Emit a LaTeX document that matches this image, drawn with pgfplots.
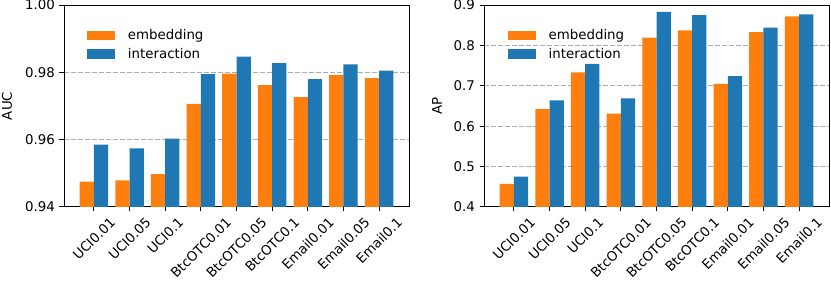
\documentclass[border=0pt]{standalone}
\usepackage{fontspec}
\setmainfont{DejaVu Sans}
\usepackage{graphicx}
\usepackage{pgfplots}
\pgfplotsset{compat=1.18}
\definecolor{mplorange}{HTML}{FF7F0E}
\definecolor{mplblue}{HTML}{1F77B4}
\pgfplotsset{
  myaxis/.style={
    scale only axis, width=345bp, height=202bp,
    font=\fontsize{13.4}{16}\selectfont,
    /pgf/number format/assume math mode=true,
    xmin=-0.84, xmax=8.84,
    xtick={0,1,2,3,4,5,6,7,8},
    xticklabels={\rotatebox{45}{UCI0.01},\rotatebox{45}{UCI0.05},\rotatebox{45}{UCI0.1},\rotatebox{45}{BtcOTC0.01},\rotatebox{45}{BtcOTC0.05},\rotatebox{45}{BtcOTC0.1},\rotatebox{45}{Email0.01},\rotatebox{45}{Email0.05},\rotatebox{45}{Email0.1}},
    xticklabel style={anchor=north, inner sep=0pt, yshift=-4.5bp},
    yticklabel style={anchor=east, inner sep=0pt, xshift=-4.5bp},
    xtick pos=bottom, ytick pos=left,
    tick align=outside, major tick length=4.5bp,
    tick style={black, line width=1bp},
    axis line style={black, line width=1bp},
    ymajorgrids,
    grid style={color=black!32, line width=1bp, dash pattern=on 4.5bp off 2.5bp},
    ybar, bar width=0.4,
    legend image code/.code={\fill[##1] (0bp,-4.75bp) rectangle (28bp,4.75bp);},
    legend style={draw=none, fill=none, anchor=north west, inner sep=0pt,
      row sep=7bp,
      nodes={inner sep=0pt, anchor=west, font=\fontsize{13.4}{16}\selectfont},
      /tikz/every odd column/.style={column sep=13bp}},
    legend cell align=left,
  },
  orangebar/.style={fill=mplorange, draw=none, bar shift=-0.2},
  bluebar/.style={fill=mplblue, draw=none, bar shift=0.2},
}
\begin{document}
\begin{tikzpicture}
\useasboundingbox (0,0) rectangle (831bp,-291bp);
\begin{axis}[myaxis,
  at={(64bp,-5bp)}, anchor=north west,
  ymin=0.94, ymax=1.00,
  ytick={0.94,0.96,0.98,1.00},
  yticklabels={0.94,0.96,0.98,1.00},
  ylabel={AUC},
  ylabel style={at={(axis description cs:-0.165,0.5)}, anchor=center, rotate=0},
  legend style={at={(axis description cs:0.066,0.88)}},
]
\addplot[orangebar] coordinates {(0,0.9475) (1,0.9479) (2,0.9498) (3,0.9706) (4,0.9796) (5,0.9762) (6,0.9726) (7,0.9792) (8,0.9783)};
\addplot[bluebar] coordinates {(0,0.9585) (1,0.9574) (2,0.9603) (3,0.9795) (4,0.9847) (5,0.9827) (6,0.9780) (7,0.9824) (8,0.9805)};
\legend{embedding, interaction}
\end{axis}
\begin{axis}[myaxis,
  at={(484bp,-5bp)}, anchor=north west,
  ymin=0.4, ymax=0.9,
  ytick={0.4,0.5,0.6,0.7,0.8,0.9},
  yticklabels={0.4,0.5,0.6,0.7,0.8,0.9},
  ylabel={AP},
  ylabel style={at={(axis description cs:-0.136,0.5)}, anchor=center, rotate=0},
  legend style={at={(axis description cs:0.068,0.88)}},
]
\addplot[orangebar] coordinates {(0,0.457) (1,0.642) (2,0.733) (3,0.631) (4,0.819) (5,0.837) (6,0.705) (7,0.833) (8,0.872)};
\addplot[bluebar] coordinates {(0,0.475) (1,0.664) (2,0.754) (3,0.669) (4,0.883) (5,0.875) (6,0.724) (7,0.844) (8,0.877)};
\legend{embedding, interaction}
\end{axis}
\end{tikzpicture}
\end{document}
